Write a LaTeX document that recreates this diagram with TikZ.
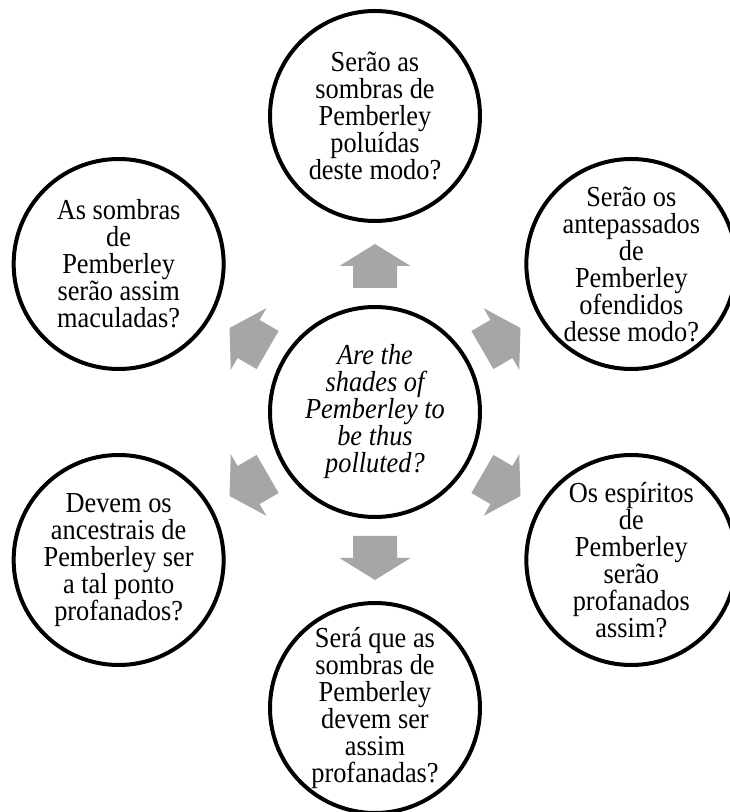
\documentclass[tikz,border=0pt]{standalone}
\usepackage{fontspec}
\setmainfont{Liberation Serif}[FakeStretch=0.91]
\definecolor{arrowgray}{RGB}{166,166,166}
\newcommand{\qsize}{\fontsize{20.6pt}{19.2pt}\selectfont}
\tikzset{
    question/.style={circle, draw, line width=0.1cm, minimum size=5.25cm, inner sep=-4pt,
        align=center, font=\qsize},
}
\begin{document}
\begin{tikzpicture}

    \useasboundingbox (-9.375,-10) rectangle (8.875,10.3);

    \foreach \a in {90,30,-30,-90,-150,150}
        \fill[arrowgray, rotate=\a] (3.1,-0.55) -- (3.65,-0.55) -- (3.65,-0.89) -- (4.2,0)
            -- (3.65,0.89) -- (3.65,0.55) -- (3.1,0.55) -- cycle;

    \node[question, font=\qsize\itshape] (center) at (0,0) {Are the\\ shades of\\ Pemberley to\\ be thus\\ polluted?};

    \node[question] (top) at (90:7.4) {Serão as\\ sombras de\\ Pemberley\\ poluídas\\ deste modo?};
    \node[question] (topright) at (30:7.4) {Serão os\\ antepassados\\ de\\ Pemberley\\ ofendidos\\ desse modo?};
    \node[question] (botright) at (-30:7.4) {Os espíritos\\ de\\ Pemberley\\ serão\\ profanados\\ assim?};
    \node[question] (bottom) at (-90:7.4) {Será que as\\ sombras de\\ Pemberley\\ devem ser\\ assim\\ profanadas?};
    \node[question] (botleft) at (-150:7.4) {Devem os\\ ancestrais de\\ Pemberley ser\\ a tal ponto\\ profanados?};
    \node[question] (topleft) at (150:7.4) {As sombras\\ de\\ Pemberley\\ serão assim\\ maculadas?};

\end{tikzpicture}
\end{document}
